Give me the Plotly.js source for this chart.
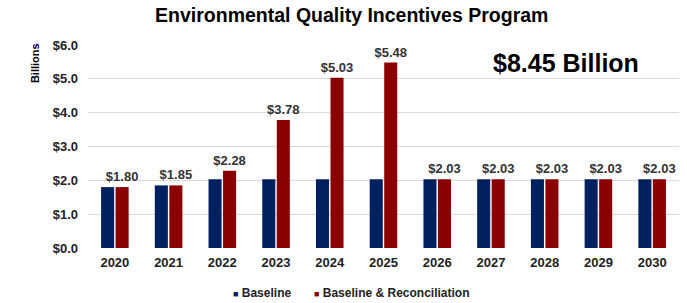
<!DOCTYPE html>
<html>
<head>
<meta charset="utf-8">
<script src="https://cdn.plot.ly/plotly-3.0.1.min.js"></script>
<style>html,body{margin:0;padding:0;background:#fff;}#chart{width:687px;height:303px;}</style>
</head>
<body>
<div id="chart"></div>
<script>
const years = ["2020","2021","2022","2023","2024","2025","2026","2027","2028","2029","2030"];
const baseline = [1.80, 1.85, 2.03, 2.03, 2.03, 2.03, 2.03, 2.03, 2.03, 2.03, 2.03];
const reconciliation = [1.80, 1.85, 2.28, 3.78, 5.03, 5.48, 2.03, 2.03, 2.03, 2.03, 2.03];
const yTickVals = [0, 1, 2, 3, 4, 5, 6];
const yTickText = ["$0.0","$1.0","$2.0","$3.0","$4.0","$5.0","$6.0"];
const seriesNames = ["Baseline", "Baseline & Reconciliation"];
const seriesColors = ["#002060", "#8b0000"];
const reconLabels = reconciliation.map(v => "$" + v.toFixed(2));

const boldFont = "Liberation Sans, Arial, sans-serif";

const data = [
  {
    type: "bar", name: seriesNames[0], x: years, y: baseline,
    marker: {color: seriesColors[0]}, hoverinfo: "skip", showlegend: false
  },
  {
    type: "bar", name: seriesNames[1], x: years, y: reconciliation,
    marker: {color: seriesColors[1]},
    text: reconLabels, textposition: "outside", cliponaxis: false, constraintext: "none",
    textfont: {family: boldFont, size: 13, color: "#333333", weight: "bold"},
    hoverinfo: "skip", showlegend: false
  }
];

const legendY = -(293 - 248) / 203;
const layout = {
  width: 687, height: 303,
  margin: {l: 88, r: 8, t: 45, b: 55},
  paper_bgcolor: "#ffffff", plot_bgcolor: "#ffffff",
  barmode: "group", bargap: 0.46, bargroupgap: 0.1,
  showlegend: false,
  title: {
    text: "<b>Environmental Quality Incentives Program</b>",
    font: {family: boldFont, size: 19.5, color: "#000"},
    x: 0.512, xanchor: "center", xref: "container", y: 0.95, yref: "container", yanchor: "middle"
  },
  xaxis: {
    type: "category", showgrid: false, zeroline: false, showline: false,
    ticks: "", tickfont: {family: boldFont, size: 13, color: "#222", weight: "bold"},
    ticklabelstandoff: 5
  },
  yaxis: {
    range: [0, 6], tickvals: yTickVals, ticktext: yTickText,
    showgrid: true, gridcolor: "#d9d9d9", gridwidth: 1, zeroline: false,
    ticks: "", ticklen: 0, tickfont: {family: boldFont, size: 13, color: "#222", weight: "bold"},
    ticklabelstandoff: 9
  },
  annotations: [
    {
      text: "<b>$8.45 Billion</b>", xref: "paper", yref: "paper",
      x: (566 - 88) / 591, y: (248 - 63) / 203, xanchor: "center", yanchor: "middle", showarrow: false,
      font: {family: boldFont, size: 25, color: "#000"}
    },
    {
      text: "<b>Billions</b>", xref: "paper", yref: "paper",
      x: -0.09, y: 0.91, xanchor: "center", yanchor: "middle", showarrow: false,
      textangle: -90,
      font: {family: boldFont, size: 11, color: "#000"}
    },
    {
      text: "<span style='color:" + seriesColors[0] + ";font-size:9px'>■</span> <b>" + seriesNames[0] + "</b>",
      xref: "paper", yref: "paper", x: (231 - 88) / 591, y: legendY,
      xanchor: "left", yanchor: "middle", showarrow: false,
      font: {family: boldFont, size: 12, color: "#222"}
    },
    {
      text: "<span style='color:" + seriesColors[1] + ";font-size:9px'>■</span> <b>" + seriesNames[1] + "</b>",
      xref: "paper", yref: "paper", x: (312 - 88) / 591, y: legendY,
      xanchor: "left", yanchor: "middle", showarrow: false,
      font: {family: boldFont, size: 12, color: "#222"}
    }
  ]
};

Plotly.newPlot("chart", data, layout, {staticPlot: true, displayModeBar: false});
</script>
</body>
</html>
